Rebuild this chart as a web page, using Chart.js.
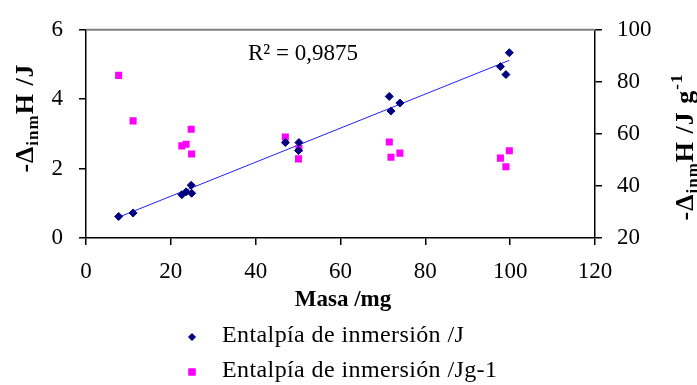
<!DOCTYPE html>
<html>
<head>
<meta charset="utf-8">
<script src="https://cdn.jsdelivr.net/npm/chart.js@4.4.1/dist/chart.umd.min.js"></script>
<style>
  html, body { margin: 0; padding: 0; background: #fff; }
  #wrap { width: 697px; height: 385px; }
</style>
</head>
<body>
<div id="wrap"><canvas id="chart" width="697" height="385"></canvas></div>
<script>
// sample mass (mg) for each immersion run
const masa = [7.7, 11.1, 22.6, 23.6, 24.8, 24.9, 47.0, 50.2, 50.1, 71.5, 71.9, 74.0, 97.7, 99.0, 99.8];
// immersion enthalpy, J
const entalpiaJ = [0.62, 0.72, 1.25, 1.33, 1.52, 1.29, 2.75, 2.75, 2.52, 4.08, 3.66, 3.89, 4.94, 4.71, 5.34];
// immersion enthalpy per gram, J/g
const entalpiaJg = [82.5, 65.0, 55.4, 56.0, 61.8, 52.3, 58.8, 54.4, 50.4, 56.9, 51.0, 52.6, 50.7, 47.4, 53.5];
// linear trendline ends (mass, J)
const trendMasa = [7.7, 99.8];
const trendJ = [0.60, 5.12];

const xTicks = [0, 20, 40, 60, 80, 100, 120];
const yTicks = [0, 2, 4, 6];
const y2Ticks = [20, 40, 60, 80, 100];

const serif = "'Liberation Serif', 'Times New Roman', serif";
const NAVY = "#000080";
const MAGENTA = "#ff00ff";

const toPts = (xs, ys) => xs.map((x, i) => ({ x: x, y: ys[i] }));

// draw a label made of pieces, some sub/superscripted
function drawRich(ctx, parts, cx, cy, angle) {
  ctx.save();
  ctx.translate(cx, cy);
  ctx.rotate(angle);
  ctx.letterSpacing = "1px";
  let total = 0;
  parts.forEach(p => {
    ctx.font = "bold " + p.size + "px " + serif;
    p.w = ctx.measureText(p.text).width;
    total += p.w;
  });
  let x = -total / 2;
  ctx.fillStyle = "#000";
  ctx.textBaseline = "alphabetic";
  ctx.textAlign = "left";
  parts.forEach(p => {
    ctx.font = "bold " + p.size + "px " + serif;
    ctx.fillText(p.text, x, 9 + (p.dy || 0));
    x += p.w;
  });
  ctx.restore();
}

const extras = {
  id: "extras",
  beforeDatasetsDraw(chart) {
    const ctx = chart.ctx;
    const a = chart.chartArea;
    // grey frame along the top of the plot
    ctx.save();
    ctx.strokeStyle = "#808080";
    ctx.lineWidth = 2;
    ctx.beginPath();
    ctx.moveTo(a.left, a.top);
    ctx.lineTo(a.right, a.top);
    ctx.stroke();
    ctx.restore();
  },
  afterDraw(chart) {
    const ctx = chart.ctx;

    // R² annotation
    ctx.save();
    ctx.font = "23px " + serif;
    ctx.fillStyle = "#000";
    ctx.textBaseline = "middle";
    ctx.fillText("R² = 0,9875", 248, 54);
    ctx.restore();

    // axis titles
    ctx.save();
    ctx.font = "bold 23px " + serif;
    ctx.fillStyle = "#000";
    ctx.textAlign = "center";
    ctx.textBaseline = "middle";
    ctx.fillText("Masa /mg", 343, 300);
    ctx.restore();

    drawRich(ctx, [
      { text: "-Δ", size: 26 },
      { text: "inm", size: 17, dy: 5 },
      { text: "H /J", size: 26 }
    ], 24, 118, -Math.PI / 2);

    drawRich(ctx, [
      { text: "-Δ", size: 26 },
      { text: "inm", size: 17, dy: 5 },
      { text: "H /J g", size: 26 },
      { text: "-1", size: 17, dy: -11 }
    ], 684, 147, -Math.PI / 2);

    // legend, one entry per row
    const rows = [
      { label: chart.data.datasets[0].label, y: 337, style: "rectRot", color: NAVY, r: 3.5 },
      { label: chart.data.datasets[1].label, y: 372, style: "rect", color: MAGENTA, r: 4.6 }
    ];
    rows.forEach(row => {
      ctx.save();
      ctx.fillStyle = row.color;
      ctx.strokeStyle = row.color;
      Chart.helpers.drawPoint(ctx, { pointStyle: row.style, radius: row.r, borderWidth: 1 }, 192, row.y);
      ctx.fillStyle = "#000";
      ctx.font = "24px " + serif;
      ctx.letterSpacing = "0.4px";
      ctx.textBaseline = "middle";
      ctx.fillText(row.label, 222, row.y - 1);
      ctx.restore();
    });
  }
};

const axisCommon = {
  border: { display: true, color: "#000", width: 1.5 },
  grid: { drawOnChartArea: false, drawTicks: true, tickLength: 7, color: "#000", lineWidth: 1.5 }
};

new Chart(document.getElementById("chart"), {
  type: "scatter",
  data: {
    datasets: [
      {
        label: "Entalpía de inmersión /J",
        data: toPts(masa, entalpiaJ),
        yAxisID: "y",
        pointStyle: "rectRot",
        pointRadius: 4,
        backgroundColor: NAVY,
        borderColor: NAVY,
        borderWidth: 1
      },
      {
        label: "Entalpía de inmersión /Jg-1",
        data: toPts(masa, entalpiaJg),
        yAxisID: "y2",
        pointStyle: "rect",
        pointRadius: 5,
        backgroundColor: MAGENTA,
        borderColor: MAGENTA,
        borderWidth: 0
      },
      {
        label: "Lineal",
        type: "line",
        data: toPts(trendMasa, trendJ),
        yAxisID: "y",
        borderColor: "#2020ff",
        borderWidth: 1,
        pointRadius: 0,
        fill: false
      }
    ]
  },
  options: {
    responsive: false,
    animation: false,
    devicePixelRatio: 1,
    layout: { padding: { top: 24, left: 0, right: 0, bottom: 0 } },
    plugins: {
      legend: { display: false },
      tooltip: { enabled: false }
    },
    scales: {
      x: Object.assign({
        type: "linear",
        position: "bottom",
        min: 0,
        max: 120,
        afterBuildTicks: s => { s.ticks = xTicks.map(v => ({ value: v })); },
        afterFit: s => { s.height = 147; },
        ticks: { color: "#000", padding: 13, font: { family: serif, size: 23 } }
      }, axisCommon),
      y: Object.assign({
        type: "linear",
        position: "left",
        min: 0,
        max: 6,
        afterBuildTicks: s => { s.ticks = yTicks.map(v => ({ value: v })); },
        afterFit: s => { s.width = 86; },
        ticks: { color: "#000", padding: 16, font: { family: serif, size: 23 } }
      }, axisCommon),
      y2: Object.assign({
        type: "linear",
        position: "right",
        min: 20,
        max: 100,
        afterBuildTicks: s => { s.ticks = y2Ticks.map(v => ({ value: v })); },
        afterFit: s => { s.width = 102; },
        ticks: { color: "#000", padding: 15, font: { family: serif, size: 23 } }
      }, axisCommon)
    }
  },
  plugins: [extras]
});
</script>
</body>
</html>
